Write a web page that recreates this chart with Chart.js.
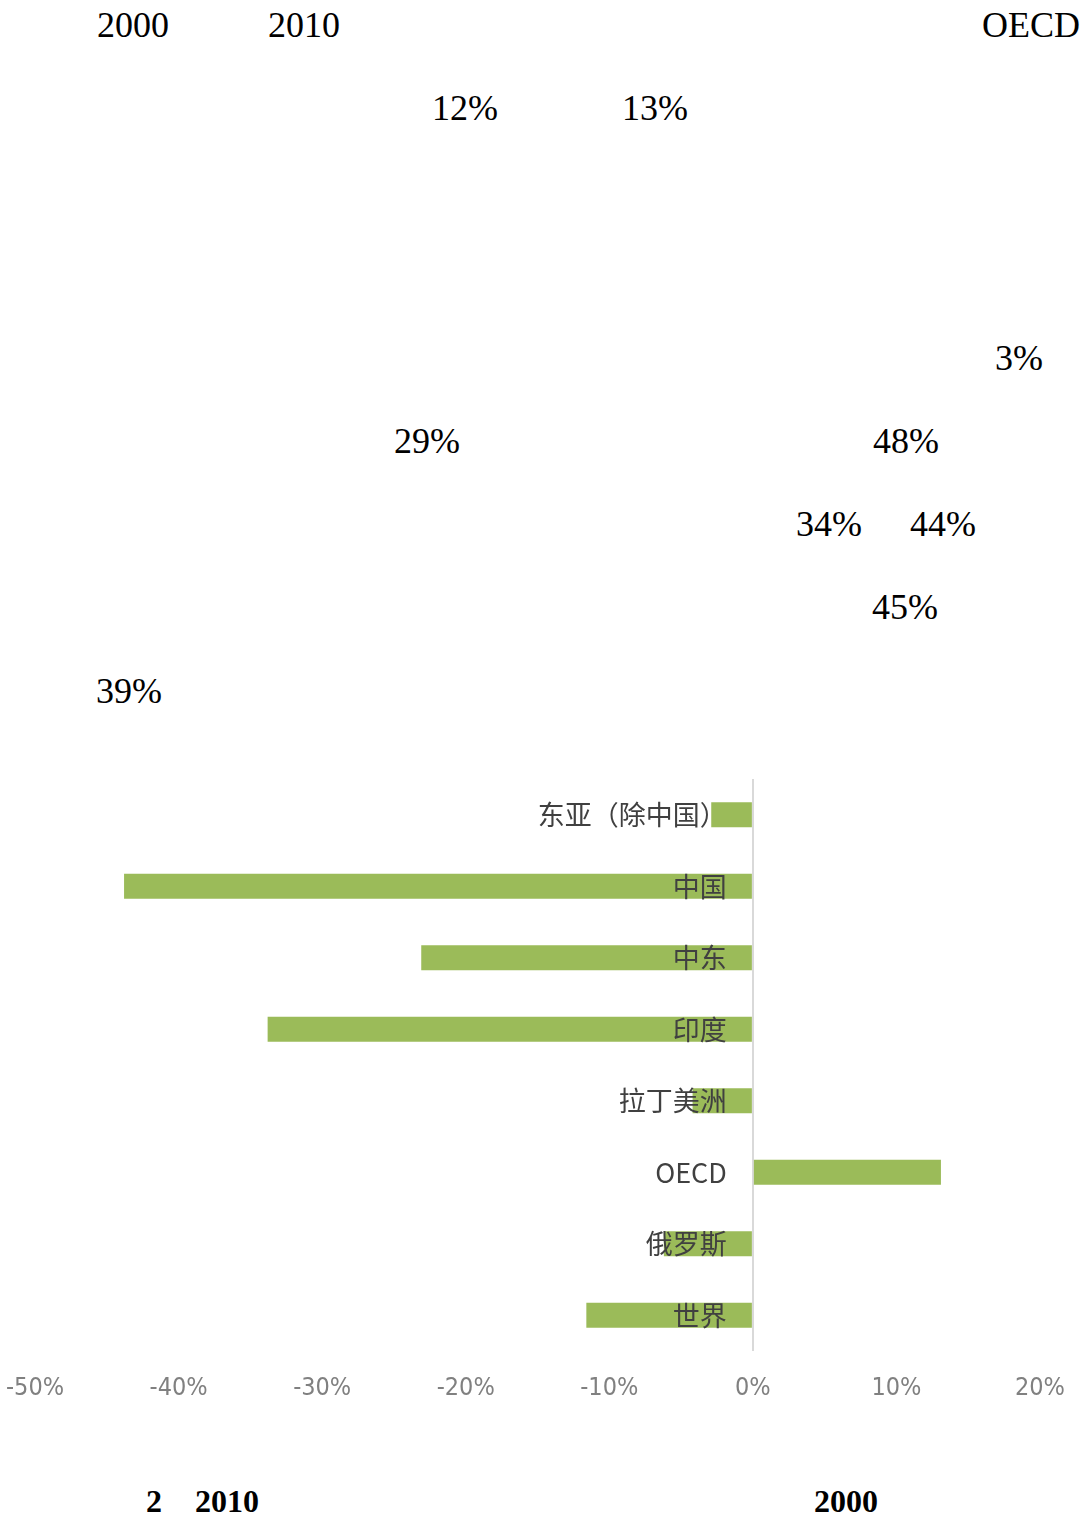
<!DOCTYPE html>
<html>
<head>
<meta charset="utf-8">
<script src="https://cdn.jsdelivr.net/npm/chart.js@4.4.1/dist/chart.umd.min.js"></script>
<style>
  body { margin: 0; width: 1090px; height: 1519px; background: #fff; position: relative; overflow: hidden; }
  .t { position: absolute; font-family: "Liberation Serif", "Times New Roman", serif; font-size: 36px; line-height: 1; color: #000; white-space: nowrap; }
  .b { font-weight: bold; font-size: 32px; }
  #wrap { position: absolute; left: -16px; top: 760px; width: 1106px; height: 680px; }
</style>
</head>
<body>
<span class="t" style="left:97px;top:7px">2000</span>
<span class="t" style="left:268px;top:7px">2010</span>
<span class="t" style="left:982px;top:7px">OECD</span>
<span class="t" style="left:432px;top:90px">12%</span>
<span class="t" style="left:622px;top:90px">13%</span>
<span class="t" style="left:995px;top:340px">3%</span>
<span class="t" style="left:394px;top:423px">29%</span>
<span class="t" style="left:873px;top:423px">48%</span>
<span class="t" style="left:796px;top:506px">34%</span>
<span class="t" style="left:910px;top:506px">44%</span>
<span class="t" style="left:872px;top:589px">45%</span>
<span class="t" style="left:96px;top:673px">39%</span>

<div id="wrap"><canvas id="myChart"></canvas></div>

<span class="t b" style="left:146px;top:1485px">2</span>
<span class="t b" style="left:195px;top:1485px">2010</span>
<span class="t b" style="left:814px;top:1485px">2000</span>

<script>
const regions = ["东亚（除中国）", "中国", "中东", "印度", "拉丁美洲", "OECD", "俄罗斯", "世界"];
const change = [-2.9, -43.8, -23.1, -33.8, -4.2, 13.1, -6.2, -11.6];
const xTicks = [-50, -40, -30, -20, -10, 0, 10, 20];

//labels drawn next to the zero line, on top of the bars
const insideLabels = {
  id: "insideLabels",
  afterDatasetsDraw(chart) {
    const ctx = chart.ctx;
    const x0 = chart.scales.x.getPixelForValue(0);
    ctx.save();
    ctx.font = '27px "Noto Sans CJK SC"';
    ctx.fillStyle = "#404040";
    ctx.textAlign = "right";
    ctx.textBaseline = "middle";
    regions.forEach((name, i) => {
      ctx.fillText(name, x0 - 26, chart.scales.y.getPixelForValue(i));
    });
    ctx.restore();
  },
};

const myChart = new Chart(document.getElementById("myChart"), {
  type: "bar",
  data: {
    labels: regions,
    datasets: [
      {
        data: change,
        backgroundColor: "#9bbb59",
        categoryPercentage: 0.7,
        barPercentage: 0.5,
      },
    ],
  },
  options: {
    indexAxis: "y",
    responsive: true,
    maintainAspectRatio: false,
    animation: false,
    layout: { padding: { left: 16, right: 50, top: 19, bottom: 15 } },
    scales: {
      x: {
        min: -50,
        max: 20,
        afterBuildTicks: (axis) => {
          axis.ticks = xTicks.map((v) => ({ value: v }));
        },
        grid: {
          drawTicks: false,
          color: (c) => (c.tick && c.tick.value === 0 ? "#d9d9d9" : "rgba(0,0,0,0)"),
          lineWidth: 2,
        },
        border: { display: false },
        ticks: {
          padding: 22,
          color: "#808080",
          font: { family: '"Liberation Sans Narrow", "DejaVu Sans Condensed", sans-serif', size: 25 },
          callback: (v) => v + "%",
        },
      },
      y: { display: false },
    },
    plugins: {
      legend: { display: false },
      tooltip: { enabled: false },
    },
  },
  plugins: [insideLabels],
});
</script>
</body>
</html>
